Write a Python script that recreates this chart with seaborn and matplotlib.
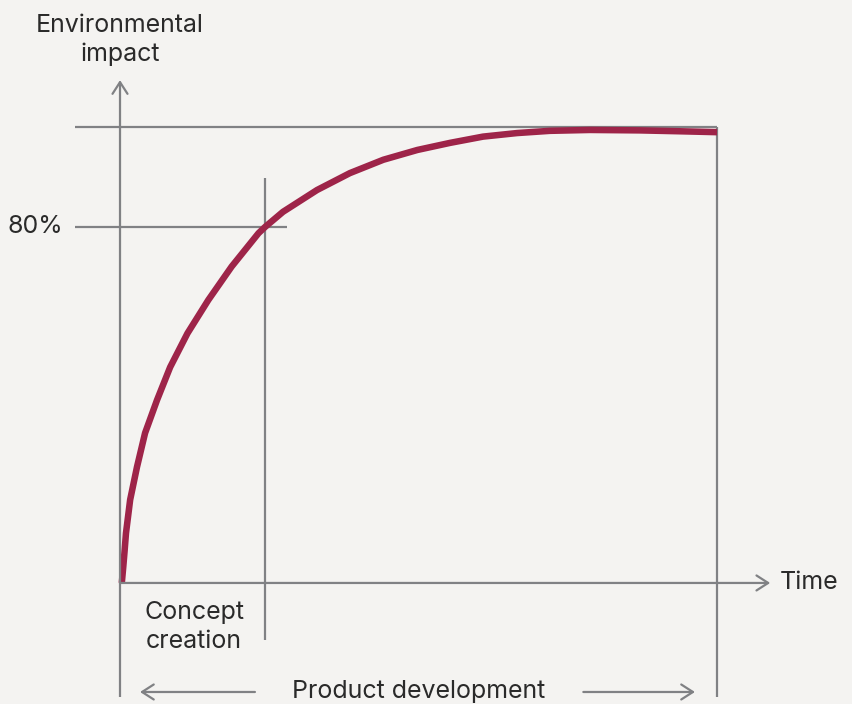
import matplotlib
matplotlib.use("Agg")
import matplotlib.pyplot as plt
import seaborn as sns
import pandas as pd

# Data (time 0-100 = product development span; impact in %)
time = [0.3, 0.55, 0.78, 1.0, 1.7, 2.85, 4.2, 6.2, 8.4, 11.3, 14.8, 18.7, 23.2, 24.3, 27.3, 33.0,
        38.5, 44.1, 49.8, 55.3, 60.8, 66.5, 72.0, 78.7, 87.1, 93.8, 100.0]
impact = [0, 3.7, 7.4, 11.2, 18.7, 26.1, 33.7, 41.1, 48.5, 56.1, 63.6, 71.1, 78.6, 80.0, 83.4, 88.3,
          92.1, 95.1, 97.3, 98.9, 100.3, 101.1, 101.6, 101.8, 101.7, 101.5, 101.3]
concept_end = 24.3
max_level = 102.5
marker_level = 80
marker_label = "80%"
y_label = "Environmental\nimpact"
x_label = "Time"
phase_label = "Concept\ncreation"
span_label = "Product development"

BG = "#f4f3f1"
GRAY = "#808184"
CURVE = "#9e2449"
TXT = "#2a2a2a"

sns.set_theme(style="white", rc={"axes.facecolor": BG, "figure.facecolor": BG})
plt.rcParams["font.family"] = ["Inter", "DejaVu Sans"]

fig = plt.figure(figsize=(8.52, 7.04), dpi=100)
ax = fig.add_axes([0, 0, 1, 1])
ax.set_xlim(-20.1, 122.6)
ax.set_ylim(-27.2, 131.0)
ax.axis("off")

lw = 1.6
# reference lines
ax.plot([-7.5, 100], [max_level, max_level], color=GRAY, lw=lw, solid_capstyle="butt")
ax.plot([-7.5, 28.0], [marker_level, marker_level], color=GRAY, lw=lw, solid_capstyle="butt")
ax.plot([concept_end, concept_end], [91.0, -12.8], color=GRAY, lw=lw, solid_capstyle="butt")
ax.plot([100, 100], [max_level, -25.6], color=GRAY, lw=lw, solid_capstyle="butt")
ax.plot([0, 0], [-25.6, 0], color=GRAY, lw=lw, solid_capstyle="butt")

arrow = dict(arrowstyle="->,head_length=0.7,head_width=0.45", color=GRAY, lw=lw, shrinkA=0, shrinkB=0)
# axes with arrows
ax.annotate("", xy=(0, 113.0), xytext=(0, 0), arrowprops=arrow)
ax.annotate("", xy=(108.9, 0), xytext=(0, 0), arrowprops=arrow)
# product development arrows
ax.annotate("", xy=(3.35, -24.5), xytext=(22.6, -24.5), arrowprops=arrow)
ax.annotate("", xy=(96.3, -24.5), xytext=(77.6, -24.5), arrowprops=arrow)

df = pd.DataFrame({"time": time, "impact": impact})
sns.lineplot(data=df, x="time", y="impact", ax=ax, color=CURVE, lw=4.7, sort=False,
             solid_capstyle="butt", solid_joinstyle="round", legend=False)

fs = 18
ax.text(0, 122.0, y_label, ha="center", va="center", fontsize=fs, color=TXT, linespacing=1.28)
ax.text(-9.5, marker_level, marker_label, ha="right", va="center", fontsize=fs, color=TXT)
ax.text(110.5, 0, x_label, ha="left", va="center", fontsize=fs, color=TXT)
ax.text(12.4, -9.9, phase_label, ha="center", va="center", fontsize=fs, color=TXT, linespacing=1.28)
ax.text(50, -24.5, span_label, ha="center", va="center", fontsize=fs, color=TXT)

fig.savefig("out.png", dpi=100, facecolor=BG)
